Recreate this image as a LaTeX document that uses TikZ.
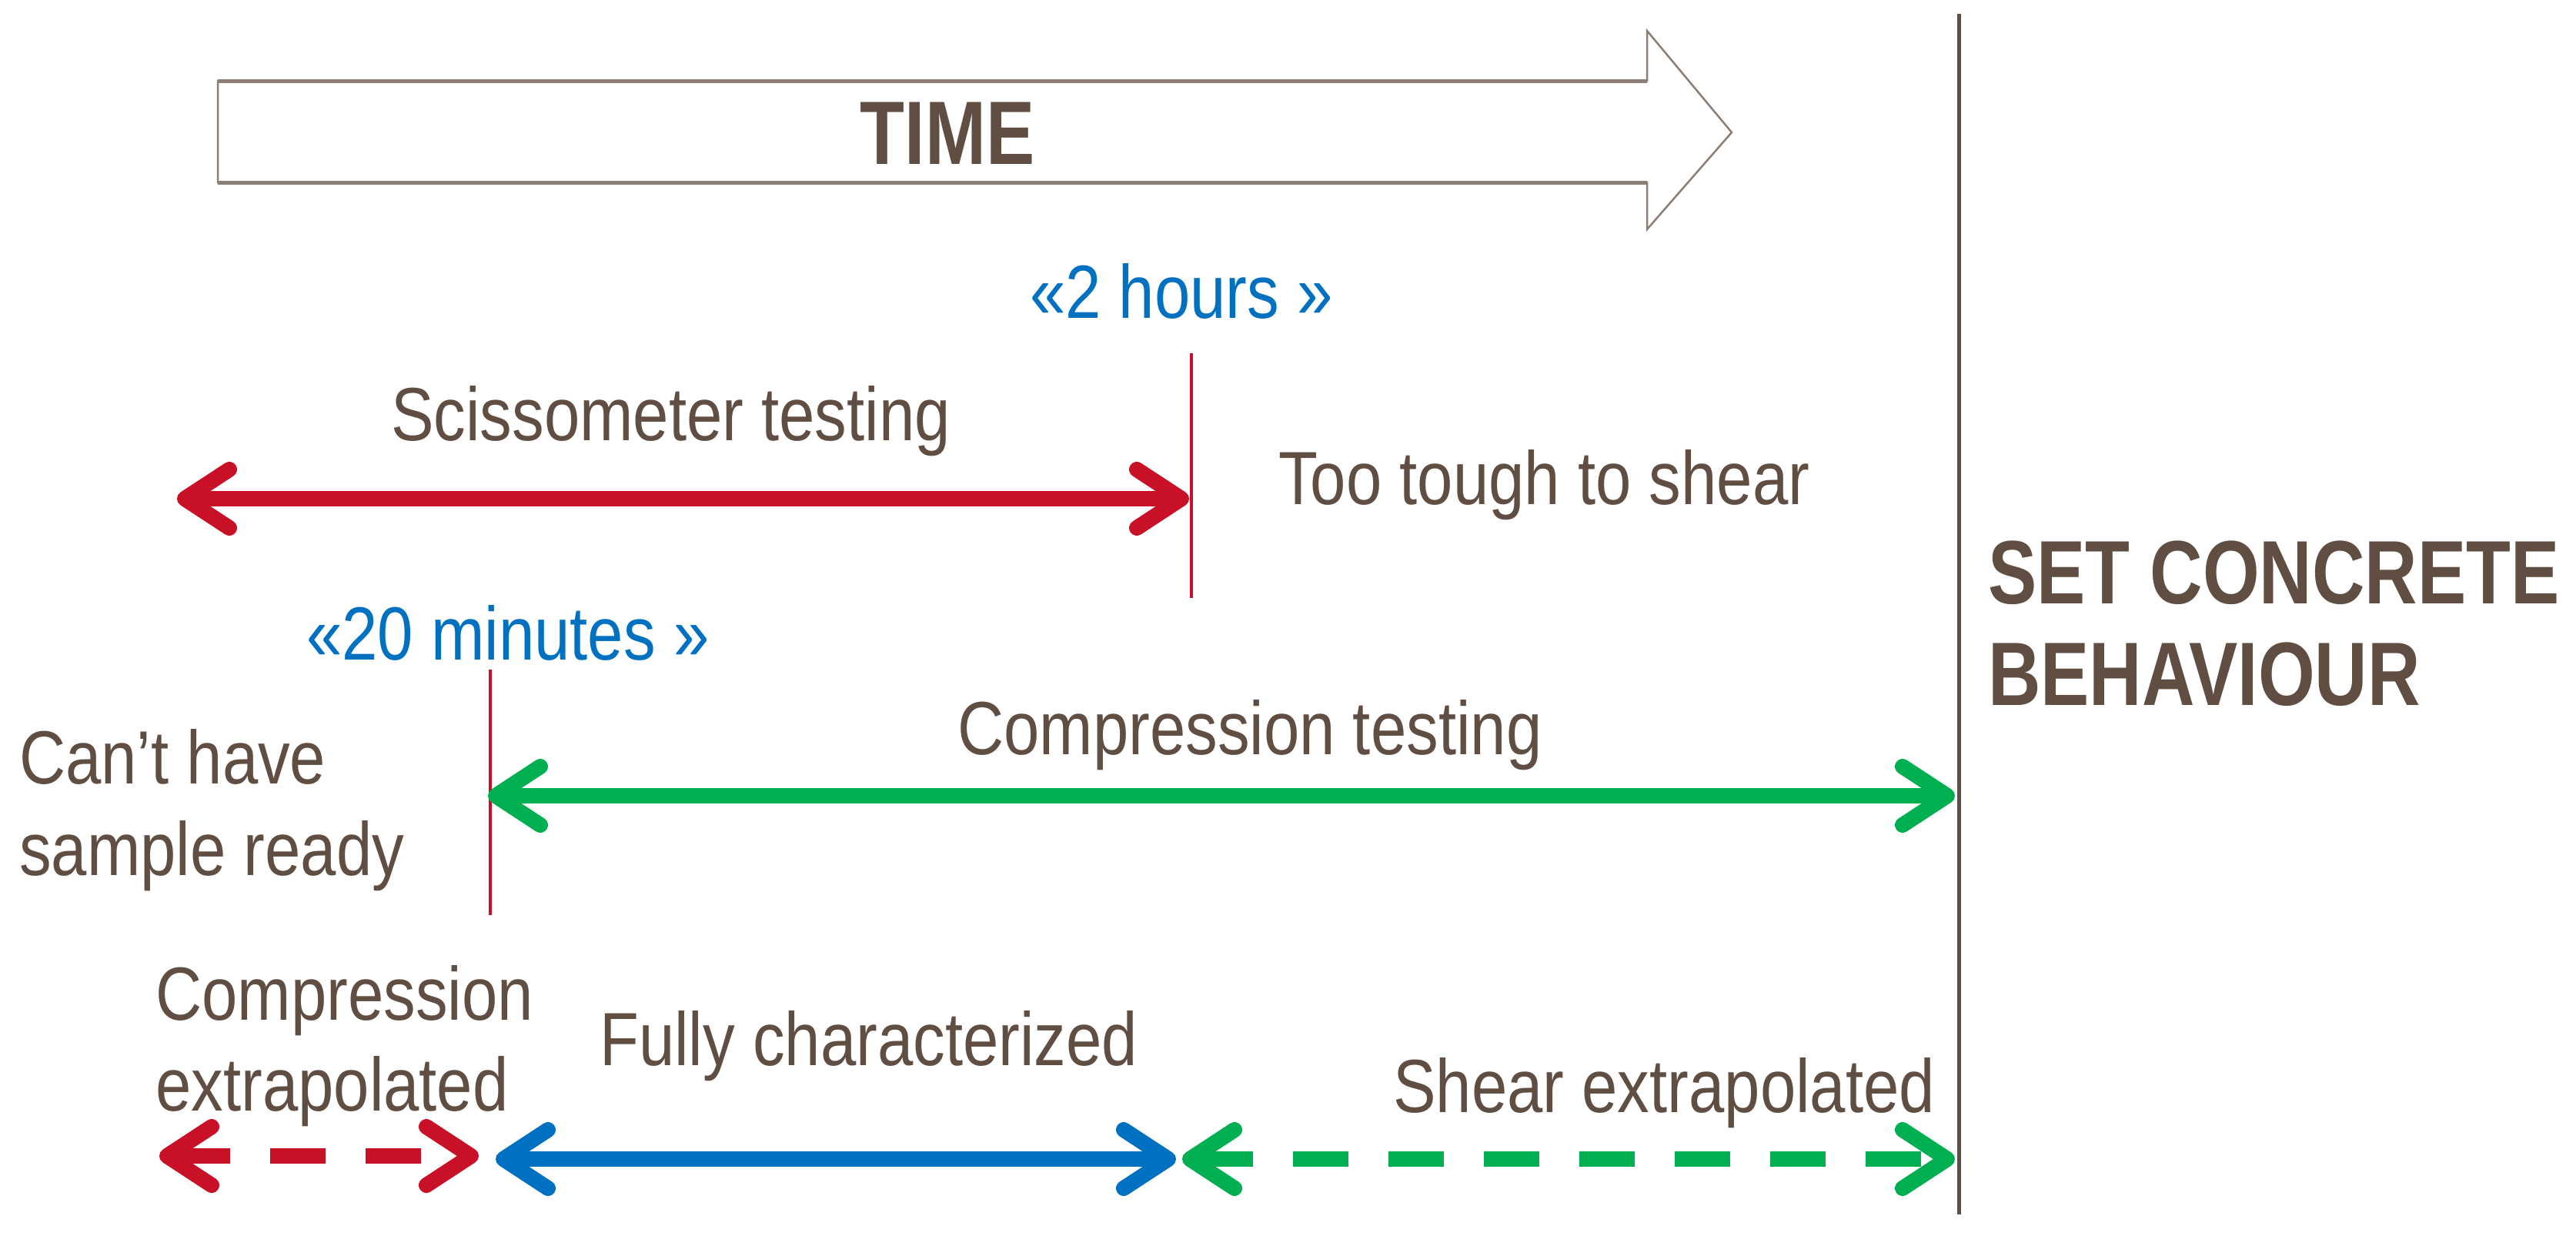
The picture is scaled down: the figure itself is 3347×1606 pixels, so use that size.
\documentclass[tikz,border=0pt]{standalone}
\usepackage{fontspec}
\setmainfont{Liberation Sans}[FakeStretch=0.85]
\newfontfamily\bldfont{Liberation Sans}[FakeStretch=0.81]
\usetikzlibrary{arrows.meta}
\definecolor{txt}{RGB}{96,78,66}
\definecolor{myred}{RGB}{200,16,38}
\definecolor{mygreen}{RGB}{0,176,80}
\definecolor{myblue}{RGB}{0,112,192}
\definecolor{arrgrey}{RGB}{140,126,116}
\tikzset{
  lbl/.style={anchor=base west, inner sep=0pt, text=txt, font=\fontsize{98}{118}\selectfont},
  bluelbl/.style={lbl, text=myblue},
  boldlbl/.style={anchor=base west, inner sep=0pt, text=txt, font=\bldfont\bfseries\fontsize{117}{132}\selectfont},
  span/.style={line width=20pt, line cap=butt,
    arrows={Straight Barb[length=58pt,width=76pt,round]-Straight Barb[length=58pt,width=76pt,round]}},
  dashspan/.style={span, dash pattern=on 72pt off 52pt},
  tick/.style={line width=4pt, myred},
  wall/.style={line width=5pt, txt},
}
\begin{document}
\begin{tikzpicture}[x=1pt,y=-1pt]
\useasboundingbox (0,0) rectangle (3347,1606);
% TIME arrow
\draw[arrgrey, line width=2.5pt, fill=white] (283,105) -- (2140,105) -- (2140,40) -- (2250,172) -- (2140,298) -- (2140,237) -- (283,237) -- cycle;
\draw[arrgrey, line width=5pt] (283,105) -- (2140,105) (283,237) -- (2140,237);
\node[boldlbl, anchor=base] (time) at (1231,213) {TIME};

% vertical boundary
\coordinate (walltop) at (2545,18);
\coordinate (wallbot) at (2545,1578);
\draw[wall] (walltop) -- (wallbot);

% ticks
\coordinate (t1top) at (1548,459);
\coordinate (t1bot) at (1548,777);
\draw[tick] (t1top) -- (t1bot);
\coordinate (t2top) at (637,870);
\coordinate (t2bot) at (637,1189);
\draw[tick] (t2top) -- (t2bot);

% labels
\node[bluelbl] (twoh) at (1338,413) {«2 hours »};
\node[lbl] (sciss) at (508,572) {Scissometer testing};
\node[lbl] (tough) at (1661,655) {Too tough to shear};
\node[bluelbl] (twentym) at (398,857) {«20 minutes »};
\node[lbl] (cant1) at (25,1018) {Can’t have};
\node[lbl] (cant2) at (25,1137) {sample ready};
\node[lbl] (comptest) at (1244,980) {Compression testing};
\node[boldlbl] (set1) at (2583,784) {SET CONCRETE};
\node[boldlbl] (set2) at (2583,916) {BEHAVIOUR};
\node[lbl] (cext1) at (202,1325) {Compression};
\node[lbl] (cext2) at (202,1443) {extrapolated};
\node[lbl] (fully) at (779,1384) {Fully characterized};
\node[lbl] (shext) at (1810,1445) {Shear extrapolated};

% arrows
\coordinate (sA) at (230,648);
\coordinate (sB) at (1545,648);
\draw[span, myred] (sA) -- (sB);
\coordinate (cA) at (634,1034);
\coordinate (cB) at (2540,1034);
\draw[span, mygreen] (cA) -- (cB);
\coordinate (rA) at (207,1502);
\coordinate (rB) at (622,1502);
\draw[dashspan, myred] (rA) -- (rB);
\coordinate (bA) at (644,1506);
\coordinate (bB) at (1528,1506);
\draw[span, myblue] (bA) -- (bB);
\coordinate (gA) at (1536,1506);
\coordinate (gB) at (2540,1506);
\draw[dashspan, mygreen] (gA) -- (gB);
\end{tikzpicture}
\end{document}
